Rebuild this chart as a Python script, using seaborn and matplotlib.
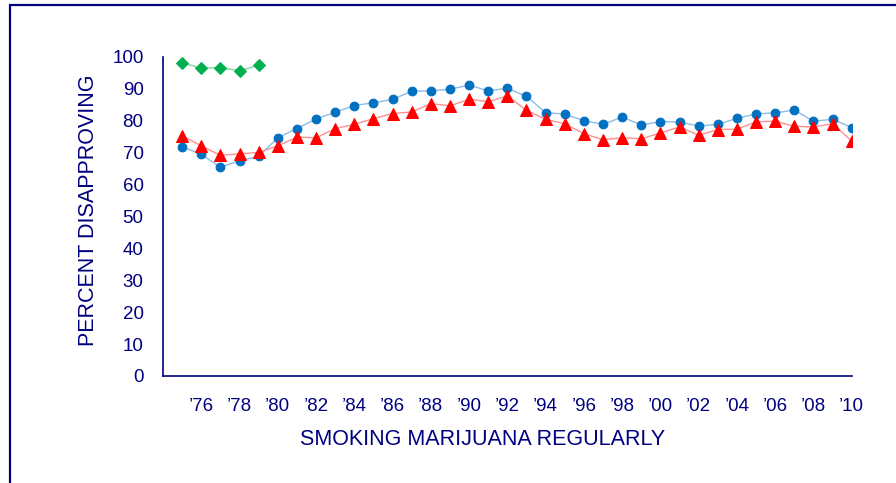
import matplotlib
matplotlib.use('Agg')
import matplotlib.pyplot as plt
import matplotlib.patches as patches
import seaborn as sns

# survey years and percent disapproving
years = list(range(1975, 2011))
blue_pct = [71.8, 69.4, 65.4, 67.4, 68.8, 74.6, 77.5, 80.5, 82.6, 84.7,
            85.6, 86.6, 89.2, 89.3, 89.8, 91.1, 89.3, 90.1, 87.6, 82.5,
            82.0, 80.0, 78.8, 81.1, 78.6, 79.7, 79.5, 78.3, 78.8, 80.7,
            82.1, 82.4, 83.3, 79.8, 80.4, 77.8]
red_pct = [75.2, 72.1, 69.1, 69.6, 70.0, 72.1, 74.8, 74.6, 77.5, 78.8,
           80.6, 82.2, 82.7, 85.3, 84.6, 86.7, 85.9, 87.7, 83.2, 80.4,
           79.0, 75.9, 74.0, 74.6, 74.3, 76.1, 78.0, 75.4, 77.2, 77.3,
           79.6, 79.8, 78.2, 78.0, 79.0, 73.6]
green_years = [1975, 1976, 1977, 1978, 1979]
green_pct = [98.1, 96.4, 96.6, 95.6, 97.3]

year_labels = [f"\u2019{y % 100:02d}" if y % 2 == 0 else "" for y in years]
y_ticks = list(range(0, 101, 10))

NAVY = '#000080'
TICK = '#A8A8D8'

sns.set_style('white')
plt.rcParams['font.family'] = ['Liberation Sans', 'DejaVu Sans']

fig = plt.figure(figsize=(8.96, 4.83), dpi=100)
ax = fig.add_axes([163 / 896, 1 - 376 / 483, (851.7 - 163) / 896, (376 - 56.7) / 483])

sns.lineplot(x=years, y=blue_pct, ax=ax, color='#8CBCE8', lw=1,
             marker='o', markersize=6.3, markerfacecolor='#0070C0',
             markeredgecolor='#0070C0')
sns.lineplot(x=years, y=red_pct, ax=ax, color='#FF9090', lw=1,
             marker='^', markersize=9, markerfacecolor='#FF0000',
             markeredgecolor='#FF0000')
sns.lineplot(x=green_years, y=green_pct, ax=ax, color='#80D8A0', lw=1,
             marker='D', markersize=6.5, markerfacecolor='#00B050',
             markeredgecolor='#00B050')

ax.set_xlim(1974, 2010)
ax.set_ylim(0, 100)
ax.set_xticks(years)
ax.set_xticklabels(year_labels)
ax.set_yticks(y_ticks)

sns.despine(ax=ax)
for side in ['left', 'bottom']:
    ax.spines[side].set_color(NAVY)
    ax.spines[side].set_linewidth(1.2)

ax.tick_params(axis='x', direction='in', length=4, width=1, color=TICK,
               labelsize=13.5, labelcolor=NAVY, pad=16)
ax.tick_params(axis='y', direction='out', length=4, width=1, color=TICK,
               labelsize=13.5, labelcolor=NAVY, pad=10)

ax.set_xlabel('SMOKING MARIJUANA REGULARLY', fontsize=15.5, color=NAVY)
ax.set_ylabel('PERCENT DISAPPROVING', fontsize=15.5, color=NAVY)
ax.xaxis.set_label_coords((482.5 - 163) / 688.7, -0.165)
ax.yaxis.set_label_coords((99 - 163) / 688.7, (376 - 210) / 319.3)

# outer frame (right and bottom edges fall outside the image)
frame = patches.Rectangle((9.5 / 896, -0.2), 1.2, 1 - 5 / 483 + 0.2,
                          transform=fig.transFigure, fill=False,
                          edgecolor=NAVY, lw=1.6, clip_on=False)
fig.add_artist(frame)

plt.savefig('out.png', dpi=100)
plt.close()
